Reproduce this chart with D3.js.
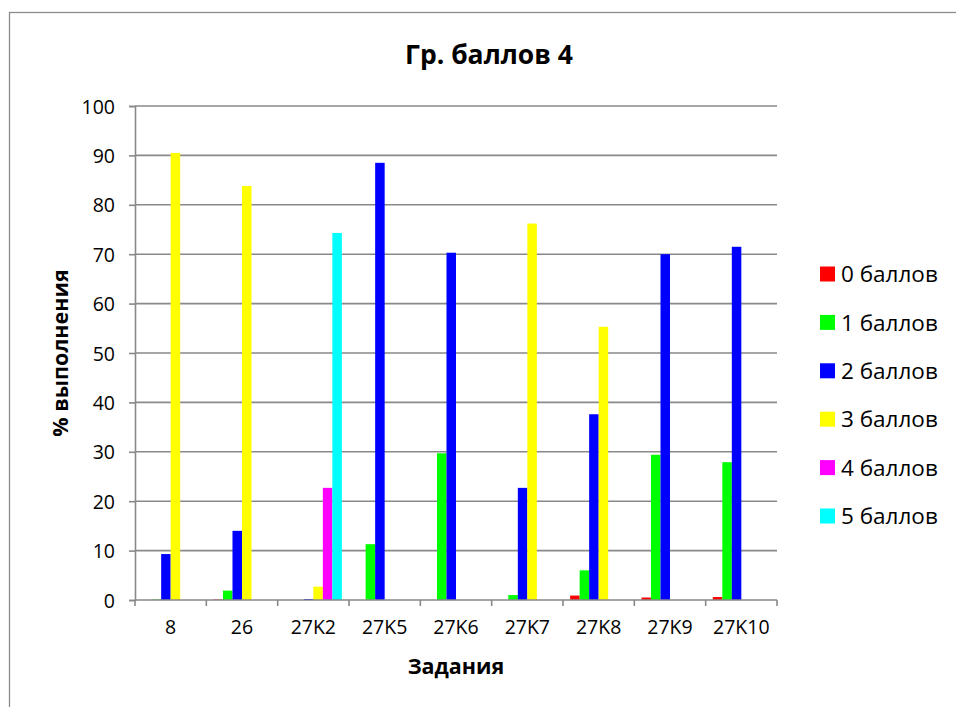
<!DOCTYPE html>
<html>
<head>
<meta charset="utf-8">
<script src="https://cdn.jsdelivr.net/npm/d3@7"></script>
<style>
  body { margin: 0; background: #fff; }
  text { font-family: "Open Sans", sans-serif; fill: #000; }
</style>
</head>
<body>
<div id="chart"></div>
<script>
// données
const zadaniya = ["8", "26", "27K2", "27K5", "27K6", "27K7", "27K8", "27K9", "27K10"];
const series = ["0 баллов", "1 баллов", "2 баллов", "3 баллов", "4 баллов", "5 баллов"];
const couleurs = ["#ff0000", "#00ff00", "#0000ff", "#ffff00", "#ff00ff", "#00ffff"];
const ball0 = [0, 0.1, 0, 0, 0, 0, 0.9, 0.5, 0.6];
const ball1 = [0.1, 1.9, 0, 11.3, 29.7, 1.0, 6.0, 29.4, 27.9];
const ball2 = [9.3, 14.0, 0.2, 88.5, 70.3, 22.7, 37.6, 70.0, 71.5];
const ball3 = [90.5, 83.8, 2.7, 0, 0, 76.2, 55.3, 0, 0];
const ball4 = [0, 0, 22.7, 0, 0, 0, 0, 0, 0];
const ball5 = [0, 0, 74.3, 0, 0, 0, 0, 0, 0];
const yTicks = [0, 10, 20, 30, 40, 50, 60, 70, 80, 90, 100];

const valeurs = [ball0, ball1, ball2, ball3, ball4, ball5];

let svg = d3.select("#chart").append("svg")
  .attr("width", 956)
  .attr("height", 707)

// cadre du graphique
svg.append("rect")
  .attr("x", 9.5).attr("y", 12.5)
  .attr("width", 1000).attr("height", 800)
  .attr("fill", "#fff")
  .attr("stroke", "#8c8c8c")
  .attr("stroke-width", 1.3)

let x0 = d3.scaleBand()
  .domain(zadaniya)
  .range([135, 777])
  .paddingInner(0.2)
  .paddingOuter(0.1);

let x1 = d3.scaleBand()
  .domain(series)
  .range([0, x0.bandwidth()]);

let y = d3.scaleLinear()
  .domain([0, 100])
  .range([600, 106]);

// grille horizontale
svg.append("g")
  .selectAll("line")
  .data(yTicks.filter(d => d > 0))
  .enter()
  .append("line")
  .attr("x1", 135).attr("x2", 777)
  .attr("y1", d => y(d)).attr("y2", d => y(d))
  .attr("stroke", "#898989")
  .attr("stroke-width", 1.6)

// barres
let groupes = svg.append("g")
  .selectAll("g")
  .data(zadaniya)
  .enter()
  .append("g")
  .attr("transform", d => "translate(" + x0(d) + ",0)")

groupes.selectAll("rect")
  .data((d, i) => series.map((s, j) => ({ s: s, v: valeurs[j][i], c: couleurs[j] })))
  .enter()
  .append("rect")
  .filter(d => d.v > 0)
  .attr("x", d => x1(d.s))
  .attr("width", x1.bandwidth())
  .attr("y", d => y(d.v))
  .attr("height", d => y(0) - y(d.v))
  .attr("fill", d => d.c)

// axe Y
let axeY = svg.append("g")
  .attr("transform", "translate(135,0)")
  .call(d3.axisLeft(y).tickValues(yTicks).tickSize(6).tickPadding(14))
axeY.select(".domain").attr("stroke", "#898989").attr("stroke-width", 1.6)
axeY.selectAll(".tick line").attr("stroke", "#898989").attr("stroke-width", 1.6)
axeY.selectAll(".tick text")
  .style("font-family", "Open Sans")
  .style("font-size", "19.5px")
  .attr("dy", "0.36em")

// axe X
let xTicks = d3.range(zadaniya.length + 1).map(i => 135 + i * x0.step());
let axeX = svg.append("g")
axeX.append("line")
  .attr("x1", 135).attr("x2", 777)
  .attr("y1", 600).attr("y2", 600)
  .attr("stroke", "#898989").attr("stroke-width", 1.6)
axeX.selectAll(".tk")
  .data(xTicks)
  .enter()
  .append("line")
  .attr("x1", d => d).attr("x2", d => d)
  .attr("y1", 600).attr("y2", 606)
  .attr("stroke", "#898989").attr("stroke-width", 1.6)
axeX.selectAll("text")
  .data(zadaniya)
  .enter()
  .append("text")
  .attr("x", d => x0(d) + x0.bandwidth() / 2)
  .attr("y", 634)
  .attr("text-anchor", "middle")
  .style("font-size", "19.5px")
  .text(d => d)

// titres
svg.append("text")
  .attr("x", 489).attr("y", 64)
  .attr("text-anchor", "middle")
  .style("font-size", "26.5px")
  .style("font-weight", "bold")
  .text("Гр. баллов 4")

svg.append("text")
  .attr("x", 456).attr("y", 674)
  .attr("text-anchor", "middle")
  .style("font-size", "21.5px")
  .style("font-weight", "bold")
  .text("Задания")

svg.append("text")
  .attr("transform", "translate(68,353) rotate(-90)")
  .attr("text-anchor", "middle")
  .style("font-size", "21.5px")
  .style("font-weight", "bold")
  .text("% выполнения")

// légende
let legende = svg.append("g")
  .selectAll("g")
  .data(series)
  .enter()
  .append("g")
  .attr("transform", (d, i) => "translate(820," + (274 + i * 48.4) + ")")

legende.append("rect")
  .attr("x", 0).attr("y", -7.5)
  .attr("width", 15).attr("height", 15)
  .attr("fill", (d, i) => couleurs[i])

legende.append("text")
  .attr("x", 21).attr("y", 0)
  .attr("dy", "0.36em")
  .style("font-size", "22.5px")
  .text(d => d)
</script>
</body>
</html>
